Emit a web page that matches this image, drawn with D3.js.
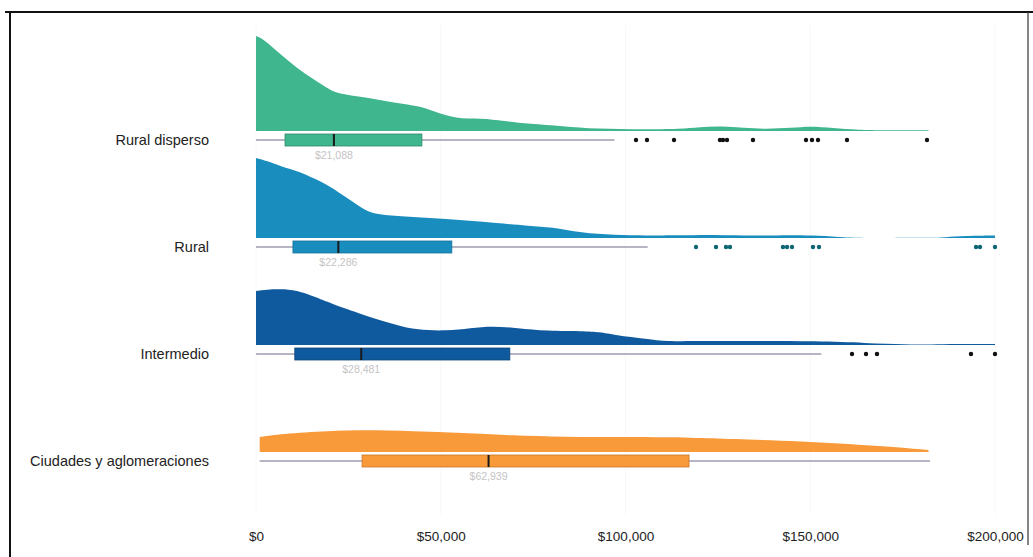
<!DOCTYPE html>
<html><head><meta charset="utf-8">
<script src="https://cdn.jsdelivr.net/npm/d3@7"></script>
<style>
html,body{margin:0;padding:0;background:#fff;}
svg{display:block;font-family:"Liberation Sans",Arial,sans-serif;}
</style></head>
<body><svg id="chart" width="1033" height="557"></svg>
<script>
// ---- data ----
const categories = ["Rural disperso", "Rural", "Intermedio", "Ciudades y aglomeraciones"];
const colors = ["#3fb68e", "#1a8dbf", "#0f5a9f", "#f89a3a"];
const strokeColors = ["#2f8a6a", "#14709a", "#0a4478", "#c87828"];
const outlierColors = ["#111111", "#0d6674", "#111111", "#111111"];
const tickValues = [0, 50000, 100000, 150000, 200000];
const tickLabels = ["$0", "$50,000", "$100,000", "$150,000", "$200,000"];
const medianLabels = ["$21,088", "$22,286", "$28,481", "$62,939"];

// box stats in $ : [whiskerLow, Q1, median, Q3, whiskerHigh]
const boxRuralDisperso = [0, 7850, 21088, 44900, 97000];
const boxRural = [0, 10000, 22286, 53000, 106000];
const boxIntermedio = [0, 10500, 28481, 68700, 153000];
const boxCiudades = [1000, 28700, 62939, 117200, 182400];

// outliers ($)
const outRuralDisperso = [102840, 105820, 113130, 125570, 126390, 127470, 134500, 148850, 150470, 152100, 159950, 181600];
const outRural = [119080, 124490, 127200, 128280, 142620, 143710, 145060, 150740, 152370, 194860, 195940, 200000];
const outIntermedio = [161300, 165090, 168060, 193500, 200000];
const outCiudades = [];

// density curves: [income in thousands $, relative density]
const densRuralDisperso = [[0,95],[2,92],[6.5,77],[11,63],[15.5,52],[20,41],[22.5,37],[29,34],[33.5,31],[38,28],[44,25],[48,20],[54,12],[61,13],[67,10],[74,7],[83,5],[92,2],[105,1.5],[115,2],[120,4],[126,5],[132,3],[138,2],[145,3],[150,5],[156,3],[163,1],[170,0.8],[182,0.8]];
const densRural = [[0,80],[3,77],[6.5,72],[12,66],[15.4,60],[20,52],[24.6,40],[29,29],[31.7,24],[38,22],[47,20],[56,18],[65,15],[74,12],[80,11],[88,5],[97,3],[106,2.5],[113,2.5],[124,3.5],[135,2],[145,3],[152,2.5],[160,0.5],[163,0],[184,0],[186,0.8],[192,2],[200,2.5]];
const densIntermedio = [[0,54],[3,55.5],[6.5,56],[11,55],[16,48],[20,42],[29,30],[38,20],[43.5,15],[51.7,14],[58,17],[64,19],[70.6,17],[78.8,14],[88.5,14],[93,13],[97,10],[106,6],[111,3.5],[120,4],[134,4],[152,4],[165,2],[176,0.7],[183,0.3],[189,1],[200,1]];
const densCiudades = [[1,15],[6.5,18],[20,21],[29,22],[42.5,21],[56,19],[69.5,16.5],[83,15],[101,15],[119,14.5],[128,13],[147,11],[169,6],[182,2]];

const boxes = [boxRuralDisperso, boxRural, boxIntermedio, boxCiudades];
const outliers = [outRuralDisperso, outRural, outIntermedio, outCiudades];
const densities = [densRuralDisperso, densRural, densIntermedio, densCiudades];

// ---- drawing ----
const svg = d3.select("#chart");
const x = d3.scaleLinear().domain([0, 200000]).range([256, 995]);
const yBase = d3.scalePoint().domain(categories).range([131, 452]);
const h = d3.scaleLinear().domain([0, 100]).range([0, 100]);

// frame
svg.append("line").attr("x1", 5).attr("x2", 1033).attr("y1", 12).attr("y2", 12).attr("stroke", "#111").attr("stroke-width", 2);
svg.append("line").attr("x1", 10).attr("x2", 10).attr("y1", 12).attr("y2", 557).attr("stroke", "#111").attr("stroke-width", 2);
svg.append("line").attr("x1", 1028).attr("x2", 1028).attr("y1", 12).attr("y2", 545).attr("stroke", "#333").attr("stroke-width", 1.2);

// very faint grid
svg.append("g").selectAll("line").data(tickValues).join("line")
  .attr("x1", d => x(d)).attr("x2", d => x(d)).attr("y1", 25).attr("y2", 515)
  .attr("stroke", "#f8f8f8").attr("stroke-width", 1);

// x axis labels
const axis = d3.axisBottom(x).tickValues(tickValues).tickFormat((d, i) => tickLabels[i]).tickSize(0).tickPadding(0);
const ax = svg.append("g").attr("transform", "translate(0,531)").call(axis);
ax.select(".domain").remove();
ax.selectAll("text").attr("font-size", 13.5).attr("fill", "#222").attr("font-family", "'Liberation Sans',Arial,sans-serif");

categories.forEach((cat, i) => {
  const base = yBase(cat);
  const g = svg.append("g");
  // density
  const area = d3.area()
    .x(d => x(d[0] * 1000))
    .y0(base)
    .y1(d => base - h(d[1]))
    .curve(d3.curveBasis);
  g.append("path").datum(densities[i]).attr("d", area).attr("fill", colors[i]).attr("stroke", "none");

  const b = boxes[i];
  const cy = base + 9;
  // whisker
  g.append("line").attr("x1", x(b[0])).attr("x2", x(b[4])).attr("y1", cy).attr("y2", cy)
    .attr("stroke", "#9c9cb0").attr("stroke-width", 1.5);
  // box
  g.append("rect").attr("x", x(b[1])).attr("y", cy - 6).attr("width", x(b[3]) - x(b[1])).attr("height", 12)
    .attr("fill", colors[i]).attr("stroke", strokeColors[i]).attr("stroke-width", 0.8);
  // median
  g.append("line").attr("x1", x(b[2])).attr("x2", x(b[2])).attr("y1", cy - 6).attr("y2", cy + 6)
    .attr("stroke", "#1a1a1a").attr("stroke-width", 2);
  // median label
  g.append("text").attr("x", x(b[2])).attr("y", cy + 19).attr("text-anchor", "middle")
    .attr("font-size", 10.5).attr("fill", "#c4c4c4").text(medianLabels[i]);
  // outliers
  g.selectAll("circle").data(outliers[i]).join("circle")
    .attr("cx", d => x(d)).attr("cy", cy).attr("r", 2.2).attr("fill", outlierColors[i]);
  // category label
  g.append("text").attr("x", 209).attr("y", cy).attr("dy", "0.35em").attr("text-anchor", "end")
    .attr("font-size", 14.5).attr("fill", "#222").text(cat);
});
</script>
</body></html>
